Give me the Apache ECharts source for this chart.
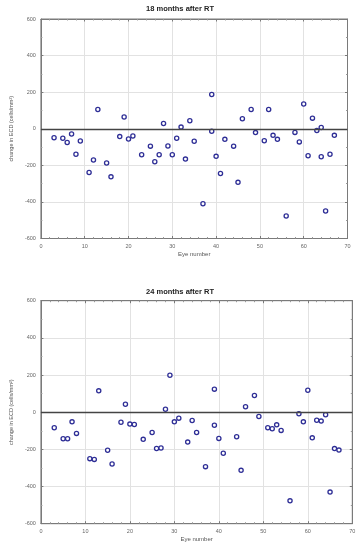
<!DOCTYPE html>
<html>
<head>
<meta charset="utf-8">
<script src="https://cdn.jsdelivr.net/npm/echarts@6/dist/echarts.min.js"></script>
<style>html,body{margin:0;padding:0;background:#fff}#c{width:360px;height:550px}</style>
</head>
<body>
<div id="c"></div>
<script>
var titles = ['18 months after RT', '24 months after RT'];
var xName = 'Eye number';
var yName = 'change in ECD (cells/mm²)';
var yTicks = [-600, -400, -200, 0, 200, 400, 600];
var xTicks = [0, 10, 20, 30, 40, 50, 60, 70];

var eye18 = [3,5,6,7,8,9,11,12,13,15,16,18,19,20,21,23,25,26,27,28,29,30,31,32,33,34,35,37,39,39,40,41,42,44,45,46,48,49,51,52,53,54,56,58,59,60,61,62,63,64,64,65,66,67];
var ecd18 = [-49,-52,-75,-29,-139,-67,-239,-171,105,-187,-263,-43,64,-56,-40,-142,-95,-180,-142,29,-94,-142,-52,9,-166,44,-68,-410,187,-14,-151,-245,-58,-95,-293,55,105,-21,-66,105,-36,-58,-477,-20,-72,135,-148,58,-10,7,-153,-450,-139,-36];

var eye24 = [3,5,6,7,8,11,12,13,15,16,18,19,20,21,23,25,26,27,28,29,30,31,33,34,35,37,39,39,40,41,44,45,46,48,49,51,52,53,54,56,58,59,60,61,62,63,64,65,66,67];
var ecd24 = [-84,-143,-143,-52,-114,-250,-254,115,-205,-279,-54,43,-64,-66,-146,-109,-195,-193,16,199,-52,-32,-161,-45,-109,-293,124,-70,-141,-221,-132,-313,29,90,-23,-84,-89,-68,-98,-477,-9,-52,118,-138,-43,-48,-14,-430,-196,-204];

function pts(xs, ys){ return xs.map(function(x,i){ return [x, ys[i]]; }); }

var grids = [
  {left: 33.5, top: 19, width: 314, height: 219.5},
  {left: 33.7, top: 300.7, width: 318.6, height: 223}
];
var titleTops = [0, 283];
var font = 'Liberation Sans, Arial, sans-serif';

var xAxes = [], yAxes = [];
[0,1].forEach(function(i){
  ['bottom','top'].forEach(function(pos){
    var main = pos === 'bottom';
    xAxes.push({
      type: 'value', gridIndex: i, position: pos, min: xTicks[0], max: xTicks[xTicks.length-1], interval: 10,
      name: main ? xName : '', nameLocation: 'middle', nameGap: 13,
      nameTextStyle: {fontSize: 6, color: '#555', fontFamily: font},
      axisLine: {show: true, onZero: false, lineStyle: {color: '#7a7a7a', width: 1}},
      axisTick: {show: true, inside: true, length: 2.5, lineStyle: {color: '#7a7a7a'}},
      minorTick: {show: true, splitNumber: 5, length: 1.5, lineStyle: {color: '#9a9a9a'}},
      axisLabel: {show: main, fontSize: 5.5, color: '#666', margin: 5, fontFamily: font},
      splitLine: {show: main, lineStyle: {color: '#e2e2e2', width: 1}}
    });
  });
  ['left','right'].forEach(function(pos){
    var main = pos === 'left';
    yAxes.push({
      type: 'value', gridIndex: i, position: pos, min: yTicks[0], max: yTicks[yTicks.length-1], interval: 200,
      name: main ? yName : '', nameLocation: 'middle', nameGap: 22, nameRotate: 90,
      nameTextStyle: {fontSize: 5.5, color: '#555', fontFamily: font},
      axisLine: {show: true, onZero: false, lineStyle: {color: '#7a7a7a', width: 1}},
      axisTick: {show: true, inside: true, length: 2.5, lineStyle: {color: '#7a7a7a'}},
      minorTick: {show: true, splitNumber: 2, length: 1.5, lineStyle: {color: '#9a9a9a'}},
      axisLabel: {show: main, fontSize: 5.5, color: '#666', margin: 5, fontFamily: font},
      splitLine: {show: main, lineStyle: {color: '#e2e2e2', width: 1}}
    });
  });
});

var option = {
  animation: false,
  backgroundColor: '#fff',
  title: titles.map(function(t,i){
    return {text: t, left: 'center', top: titleTops[i],
      textStyle: {fontSize: 7.5, fontWeight: 'bold', color: '#222', fontFamily: font}};
  }),
  grid: grids.map(function(g){
    return Object.assign({show: true, borderColor: '#7a7a7a', borderWidth: 1, backgroundColor: '#fff'}, g);
  }),
  xAxis: xAxes,
  yAxis: yAxes,
  series: [[eye18, ecd18], [eye24, ecd24]].map(function(d,i){
    return {
      type: 'scatter', xAxisIndex: i*2, yAxisIndex: i*2,
      data: pts(d[0], d[1]),
      symbol: 'circle', symbolSize: 4.2,
      itemStyle: {color: '#ffffff', borderColor: '#2e2e96', borderWidth: 1.3, opacity: 1},
      markLine: {
        silent: true, symbol: 'none', label: {show: false},
        lineStyle: {color: '#444', width: 1.3, type: 'solid'},
        data: [{yAxis: 0}]
      }
    };
  })
};
echarts.init(document.getElementById('c'), null, {renderer: 'canvas'}).setOption(option);
</script>
</body>
</html>
